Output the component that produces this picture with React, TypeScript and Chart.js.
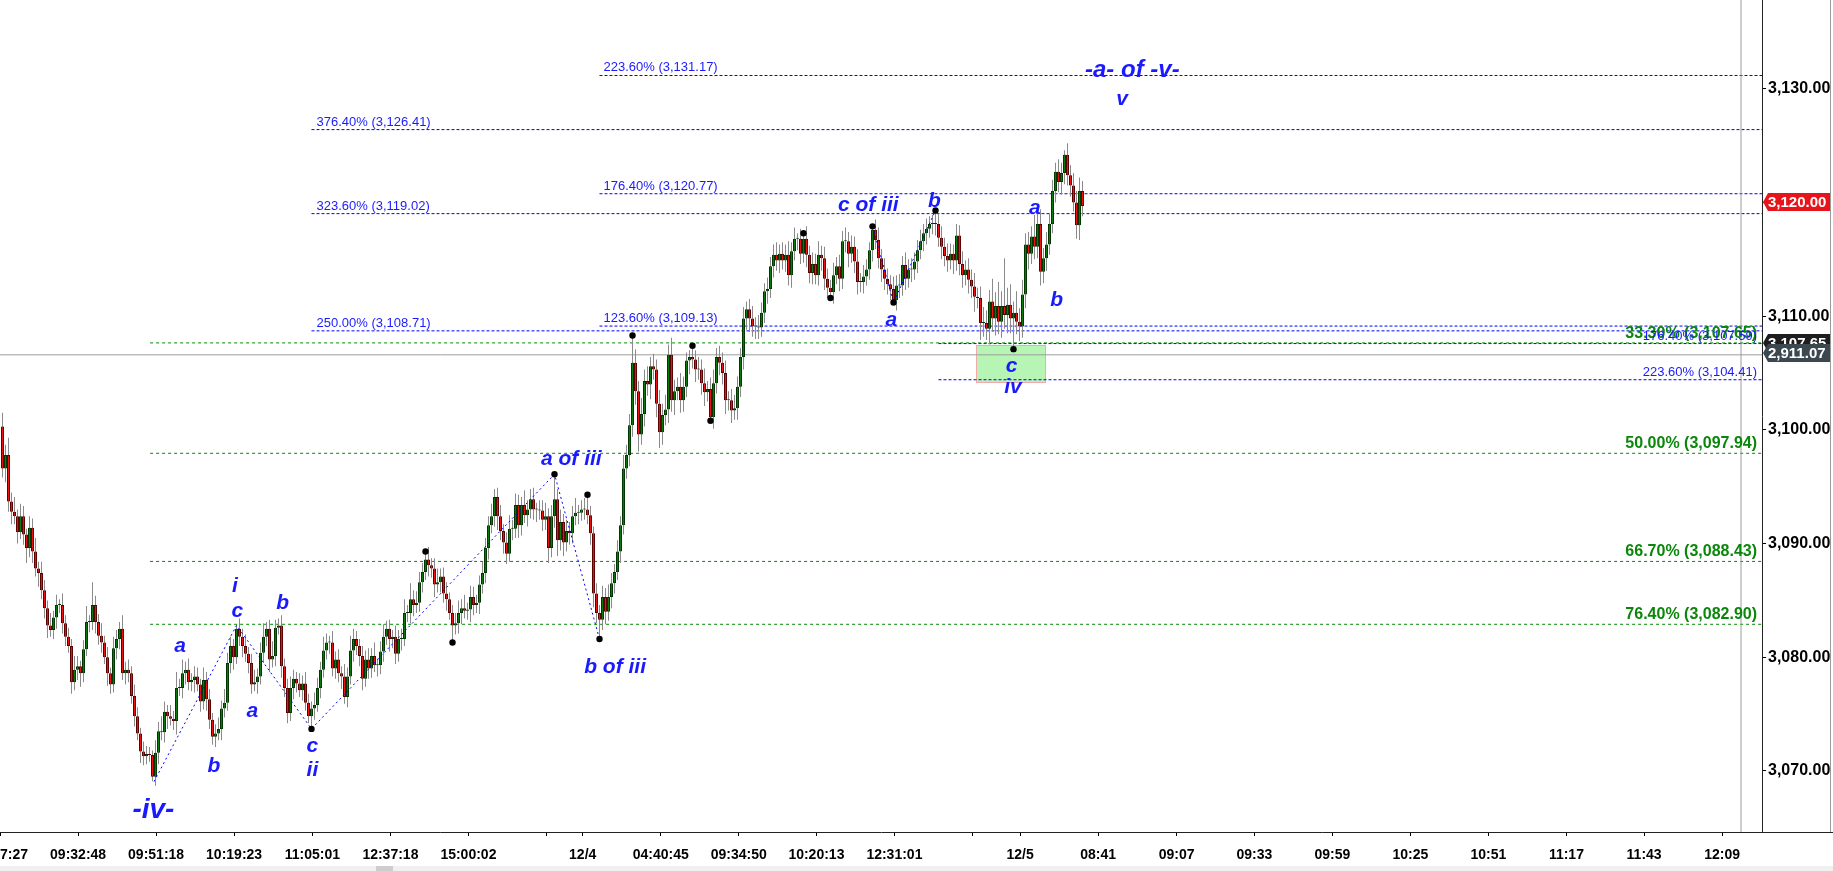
import React, { useEffect, useRef } from "react";
import { Chart, registerables } from "chart.js";
Chart.register(...registerables);

// ---------------- DATA ----------------
const FIRST_OPEN = 3100.3;
const closes = [
  3096.6, 3097.8, 3093.7, 3092.8, 3092.4, 3091.0, 3092.4, 3090.8, 3089.6, 3091.4,
  3089.3, 3087.8, 3087.4, 3085.9, 3084.3, 3082.8, 3082.4, 3083.5, 3084.6, 3084.6,
  3083.0, 3081.8, 3081.0, 3077.8, 3078.9, 3079.2, 3078.6, 3080.7, 3083.1, 3083.1,
  3084.6, 3083.1, 3081.9, 3081.3, 3080.0, 3078.6, 3077.6, 3080.8, 3081.6, 3082.5,
  3078.6, 3078.9, 3078.6, 3076.6, 3074.8, 3073.3, 3071.7, 3071.3, 3071.5, 3071.4,
  3069.5, 3071.6, 3073.5, 3073.4, 3075.2, 3074.8, 3074.6, 3074.4, 3077.3, 3077.3,
  3078.6, 3078.9, 3077.8, 3078.0, 3078.3, 3077.6, 3076.1, 3078.0, 3076.3, 3074.5,
  3073.0, 3073.3, 3073.7, 3075.5, 3076.0, 3079.5, 3081.0, 3080.0, 3082.5, 3081.8,
  3081.0, 3080.3, 3079.5, 3077.6, 3077.8, 3078.3, 3080.4, 3081.8, 3082.5, 3079.8,
  3080.1, 3082.6, 3082.8, 3079.2, 3077.3, 3075.1, 3077.3, 3078.1, 3077.7, 3077.1,
  3077.7, 3076.0, 3074.8, 3075.5, 3075.8, 3077.3, 3078.9, 3080.6, 3081.3, 3081.3,
  3079.0, 3079.8, 3078.6, 3078.3, 3076.5, 3078.3, 3080.6, 3081.6, 3081.0, 3080.1,
  3078.1, 3079.8, 3079.0, 3080.1, 3079.3, 3079.3, 3080.5, 3081.8, 3082.5, 3081.6,
  3081.8, 3080.3, 3081.6, 3081.6, 3083.9, 3083.9, 3085.1, 3084.6, 3084.8, 3086.6,
  3087.5, 3088.6, 3088.1, 3087.8, 3086.4, 3086.6, 3087.1, 3085.6, 3085.1, 3083.9,
  3082.8, 3083.0, 3083.9, 3084.3, 3084.1, 3084.2, 3085.3, 3084.6, 3084.8, 3086.4,
  3087.4, 3089.6, 3091.6, 3092.4, 3094.1, 3092.4, 3091.1, 3090.1, 3089.1, 3091.3,
  3091.3, 3093.4, 3091.6, 3093.4, 3092.5, 3093.0, 3093.9, 3093.0, 3093.0, 3092.9,
  3092.1, 3092.4, 3089.6, 3092.4, 3093.9, 3090.3, 3091.9, 3090.1, 3091.1, 3090.9,
  3092.4, 3092.7, 3092.7, 3093.0, 3093.0, 3092.5, 3090.9, 3085.6, 3083.9, 3083.3,
  3085.3, 3084.0, 3085.3, 3086.5, 3087.5, 3089.3, 3091.6, 3096.6, 3097.8, 3100.4,
  3105.9, 3103.4, 3099.6, 3101.4, 3104.3, 3104.0, 3105.6, 3105.3, 3102.3, 3099.8,
  3101.3, 3101.8, 3106.6, 3102.6, 3103.4, 3103.8, 3102.6, 3103.8, 3106.1, 3106.4,
  3106.2, 3105.3, 3105.3, 3104.1, 3103.3, 3103.6, 3101.1, 3104.1, 3106.4, 3105.9,
  3105.0, 3102.6, 3102.6, 3101.7, 3101.9, 3103.8, 3106.4, 3109.8, 3110.6, 3109.8,
  3109.1, 3109.1, 3109.0, 3110.3, 3112.2, 3112.4, 3114.4, 3115.4, 3114.9, 3115.5,
  3114.9, 3115.4, 3113.6, 3115.7, 3116.8, 3116.8, 3115.5, 3116.8, 3115.4, 3113.8,
  3114.6, 3113.6, 3115.4, 3115.1, 3113.3, 3112.5, 3112.1, 3113.6, 3114.4, 3113.3,
  3116.6, 3116.6, 3115.5, 3116.1, 3114.8, 3113.0, 3113.0, 3113.5, 3114.1, 3115.8,
  3117.6, 3116.7, 3115.1, 3114.1, 3113.3, 3112.8, 3112.4, 3111.4, 3112.7, 3112.7,
  3114.5, 3113.3, 3114.1, 3114.1, 3114.8, 3115.8, 3116.6, 3117.3, 3117.7, 3118.1,
  3118.1, 3118.1, 3116.9, 3116.1, 3115.3, 3114.9, 3115.5, 3114.9, 3117.1, 3114.6,
  3113.6, 3114.1, 3113.2, 3112.6, 3111.7, 3111.6, 3109.4, 3109.4, 3108.9, 3111.3,
  3109.8, 3110.9, 3109.5, 3110.9, 3110.1, 3111.0, 3109.8, 3110.3, 3109.5, 3109.1,
  3111.9, 3116.3, 3115.5, 3117.0, 3116.1, 3118.1, 3113.9, 3115.1, 3116.3, 3118.1,
  3121.0, 3122.7, 3121.8, 3122.6, 3124.2, 3122.4, 3121.5, 3120.0, 3118.0, 3121.0,
  3119.7,
];
const wickUp = [
  1.2, 0.9, 1.5, 0.8, 1.3, 0.6, 1.1, 0.9, 0.5, 1.0,
  0.8, 1.2, 0.6, 1.0, 0.9, 0.7, 1.1, 0.6, 0.9, 0.5,
  1.0, 0.7, 0.8, 0.6, 1.2, 0.9, 0.5, 0.8, 1.4, 0.6,
  2.0, 0.8, 0.7, 1.1, 0.6, 0.9, 0.5, 1.0, 0.8, 0.6,
  1.2, 0.7, 0.9, 0.6, 1.0, 0.8, 0.5, 0.9, 0.7, 0.6,
  0.4, 1.1, 0.8, 1.3, 0.9, 0.6, 1.0, 0.7, 1.4, 0.8,
  1.2, 0.7, 1.0, 0.6, 0.9, 0.8, 0.5, 1.1, 0.7, 0.9,
  0.6, 0.8, 1.0, 0.7, 1.2, 0.9, 0.8, 0.6, 0.3, 0.9,
  0.7, 1.0, 0.6, 0.8, 1.1, 0.7, 0.9, 1.2, 0.6, 0.8,
  1.3, 0.7, 0.6, 0.9, 0.7, 0.8, 1.0, 0.8, 0.6, 0.9,
  0.7, 1.0, 0.8, 0.6, 1.1, 0.9, 0.7, 1.2, 0.8, 0.6,
  1.0, 0.7, 0.9, 0.6, 1.1, 0.8, 1.3, 0.9, 0.7, 0.6,
  0.9, 0.8, 1.0, 0.7, 1.2, 0.6, 0.9, 1.1, 0.7, 0.8,
  0.6, 1.0, 0.8, 0.9, 1.2, 0.7, 1.4, 0.8, 1.0, 0.9,
  0.8, 0.7, 1.1, 0.6, 0.9, 1.2, 0.7, 0.8, 1.0, 0.6,
  0.7, 0.9, 1.1, 0.8, 1.2, 0.6, 1.0, 0.9, 0.7, 0.8,
  1.0, 0.9, 0.8, 1.1, 0.7, 0.8, 1.0, 0.6, 0.9, 1.2,
  0.8, 1.0, 0.9, 0.7, 1.3, 0.8, 0.9, 1.0, 0.6, 0.8,
  0.9, 1.2, 0.7, 1.0, 2.2, 0.9, 1.1, 0.7, 1.0, 0.8,
  0.9, 1.3, 0.7, 0.8, 1.0, 1.3, 0.8, 0.6, 0.9, 0.7,
  1.0, 0.8, 1.1, 0.9, 0.7, 1.0, 0.8, 1.2, 0.9, 1.0,
  2.4, 1.2, 0.9, 1.4, 1.0, 1.3, 0.8, 1.1, 0.9, 1.2,
  1.0, 1.3, 0.9, 1.5, 1.0, 0.8, 1.2, 0.9, 0.7, 0.6,
  1.0, 0.8, 1.1, 0.9, 1.3, 0.7, 1.0, 1.2, 0.8, 1.0,
  0.9, 1.1, 0.8, 1.0, 1.2, 0.9, 0.8, 1.0, 0.7, 0.9,
  1.1, 0.8, 1.0, 0.9, 0.7, 1.0, 0.8, 0.9, 1.1, 0.8,
  1.0, 0.9, 1.2, 0.8, 1.0, 0.5, 0.9, 0.5, 1.1, 0.8,
  1.0, 0.9, 1.2, 0.8, 1.0, 0.9, 0.7, 1.1, 0.8, 1.0,
  0.9, 1.2, 0.8, 1.0, 0.9, 1.1, 0.8, 1.0, 0.9, 0.7,
  0.3, 0.9, 1.1, 0.8, 1.0, 0.9, 0.8, 1.1, 0.9, 1.0,
  0.8, 1.1, 0.9, 1.0, 0.8, 0.9, 1.0, 0.8, 0.9, 0.7,
  0.8, 1.2, 0.9, 1.0, 0.8, 1.1, 0.9, 0.8, 1.0, 0.9,
  1.1, 0.8, 1.0, 0.9, 1.2, 0.8, 1.0, 1.4, 1.1, 1.0,
  2.0, 1.2, 2.1, 1.3, 4.2, 1.5, 1.8, 1.0, 1.9, 1.2,
  1.3, 1.0, 1.1, 0.9, 1.9, 1.0, 1.3, 0.9, 1.1, 0.9,
  1.0, 0.8, 1.1, 0.9, 0.4, 1.0, 0.9, 1.1, 1.0, 1.2,
  0.9,
];
const wickDown = [
  0.8, 1.2, 0.9, 1.1, 0.7, 1.0, 0.6, 0.9, 1.3, 0.8,
  1.0, 0.7, 1.2, 0.8, 0.9, 1.1, 0.6, 0.8, 1.0, 0.7,
  0.9, 0.8, 0.6, 1.0, 0.7, 0.9, 1.2, 0.8, 0.6, 0.9,
  0.7, 1.0, 0.8, 0.9, 0.6, 1.1, 0.8, 0.7, 1.0, 0.9,
  0.6, 1.0, 0.8, 0.7, 0.9, 0.6, 1.0, 0.8, 0.7, 0.6,
  0.4, 0.8, 1.0, 0.7, 0.9, 1.1, 0.6, 0.8, 1.2, 0.7,
  0.9, 1.0, 0.7, 0.8, 1.1, 0.6, 0.9, 0.7, 1.0, 0.8,
  0.7, 0.9, 0.6, 1.0, 0.8, 0.7, 0.9, 1.1, 0.6, 0.8,
  1.0, 0.7, 0.9, 0.8, 0.6, 1.0, 0.7, 0.9, 0.8, 1.1,
  0.7, 0.9, 0.6, 1.0, 0.8, 0.9, 0.7, 1.0, 0.8, 0.6,
  0.9, 0.7, 0.6, 1.1, 1.0, 0.6, 0.9, 0.7, 0.8, 1.0,
  0.7, 0.9, 0.8, 1.1, 0.6, 0.9, 0.7, 1.0, 0.8, 0.9,
  1.0, 0.7, 0.9, 0.8, 0.6, 1.0, 0.8, 0.9, 0.7, 1.1,
  0.8, 0.9, 0.7, 1.0, 0.6, 0.8, 0.9, 1.0, 0.7, 0.8,
  0.9, 0.7, 1.0, 0.8, 1.1, 0.7, 0.9, 0.8, 1.0, 0.6,
  1.5, 0.8, 0.9, 1.0, 0.7, 0.8, 1.1, 0.9, 0.7, 1.0,
  0.8, 0.9, 1.0, 0.7, 0.9, 1.2, 0.8, 1.0, 0.9, 0.7,
  1.0, 0.8, 1.1, 0.9, 0.7, 1.0, 0.8, 0.9, 1.1, 0.8,
  1.0, 0.9, 1.3, 0.8, 1.0, 1.4, 0.9, 1.2, 0.8, 1.0,
  0.9, 0.8, 1.0, 0.7, 0.9, 0.8, 1.0, 1.2, 0.9, 1.7,
  0.9, 1.1, 0.8, 1.0, 0.9, 0.7, 1.0, 0.8, 0.9, 1.0,
  1.0, 1.2, 1.5, 0.9, 1.1, 1.0, 1.3, 0.9, 1.2, 1.4,
  1.1, 0.9, 1.2, 1.0, 1.3, 0.8, 1.1, 1.0, 0.9, 1.2,
  0.8, 1.1, 0.9, 1.0, 1.2, 0.8, 0.3, 1.0, 0.9, 1.1,
  1.0, 1.2, 0.9, 1.1, 0.8, 1.0, 0.9, 1.1, 1.0, 1.2,
  0.9, 1.1, 1.0, 0.8, 0.9, 1.1, 0.8, 1.0, 0.9, 1.1,
  0.8, 1.0, 0.9, 1.1, 0.8, 1.0, 0.9, 0.8, 1.1, 0.9,
  1.0, 0.8, 0.9, 1.1, 1.0, 0.9, 0.5, 1.0, 0.8, 1.1,
  0.9, 1.0, 1.2, 0.8, 1.0, 1.1, 0.9, 1.0, 0.8, 0.9,
  1.0, 0.8, 0.9, 1.1, 1.0, 0.9, 1.0, 0.2, 0.9, 1.1,
  0.9, 1.0, 0.8, 1.1, 0.9, 1.0, 0.8, 0.9, 1.0, 0.8,
  0.9, 1.0, 0.8, 1.1, 0.9, 1.0, 0.8, 1.2, 0.9, 1.0,
  1.1, 0.9, 1.2, 1.0, 1.3, 0.9, 1.5, 1.2, 1.0, 1.4,
  1.2, 1.5, 1.1, 1.4, 1.2, 1.6, 1.3, 2.7, 1.1, 1.3,
  1.0, 1.2, 1.4, 0.9, 1.1, 1.0, 1.2, 1.0, 1.1, 0.9,
  0.8, 1.0, 0.9, 1.1, 1.0, 0.9, 1.0, 0.8, 1.2, 1.3,
  0.9,
];

// axis ticks (x in bar-slot units)
const xTickPos = [-0.83, 25.2, 51.2, 77.2, 103.3, 129.3, 155.3, 181.3, 193.4, 219.4, 245.4, 271.3, 297.3, 323.4, 339.2, 365.2, 391.4, 417.3, 443.3, 469.3, 495.3, 521.3, 547.2, 573.2];
const xTickLabels = ["09:17:27", "09:32:48", "09:51:18", "10:19:23", "11:05:01", "12:37:18", "15:00:02", "", "12/4", "04:40:45", "09:34:50", "10:20:13", "12:31:01", "", "12/5", "08:41", "09:07", "09:33", "09:59", "10:25", "10:51", "11:17", "11:43", "12:09"];
const yTicks = [3070, 3080, 3090, 3100, 3110, 3120, 3130];
const X_MIN = -0.8333;
const X_MAX = 586.5;
const Y_MIN = 3064.63;
const Y_MAX = 3137.81;

// fibonacci levels
const fibAStart = 103;
const fibALevels = [3126.41, 3119.02, 3108.71];
const fibALabels = ["376.40% (3,126.41)", "323.60% (3,119.02)", "250.00% (3,108.71)"];
const fibBStart = 199;
const fibBLevels = [3131.17, 3120.77, 3109.13];
const fibBLabels = ["223.60% (3,131.17)", "176.40% (3,120.77)", "123.60% (3,109.13)"];
const fibCStart = 312;
const fibCLevels = [3107.59, 3104.41];
const fibCLabels = ["176.40% (3,107.59)", "223.60% (3,104.41)"];
const fibGStart = 49.2;
const fibGLevels = [3107.65, 3097.94, 3088.43, 3082.9];
const fibGLabels = ["33.30% (3,107.65)", "50.00% (3,097.94)", "66.70% (3,088.43)", "76.40% (3,082.90)"];

// wave paths & pivot dots
const wave1Idx = [50.5, 78, 103, 184, 199];
const wave1Val = [3069.06, 3082.8, 3073.7, 3096.1, 3081.6];
const wave2Idx = [290, 297, 311];
const wave2Val = [3117.9, 3111.2, 3119.3];
const dotIdx = [103, 141, 150, 184, 195, 199, 210, 230, 236, 267, 276, 290, 297, 311, 337];
const dotVal = [3073.7, 3089.3, 3081.3, 3096.1, 3094.3, 3081.6, 3108.3, 3107.4, 3100.8, 3117.3, 3111.6, 3117.9, 3111.2, 3119.3, 3107.1];

// wave labels
const waveText = ["-iv-", "i", "c", "a", "b", "a", "b", "c", "ii", "a of iii", "b of iii", "c of iii", "b", "a", "a", "b", "v", "-a- of -v-", "c", "iv"];
const waveIdx = [50.3, 77.5, 78.3, 59.2, 70.5, 83.3, 93.4, 103.3, 103.3, 189.6, 204.2, 288.6, 310.6, 296.3, 344.1, 351.4, 373.2, 376.6, 336.4, 336.8];
const waveVal = [3066.57, 3086.21, 3084.01, 3080.93, 3070.38, 3075.22, 3084.75, 3072.14, 3070.09, 3097.44, 3079.12, 3119.72, 3120.13, 3109.67, 3119.49, 3111.42, 3129.1, 3131.65, 3105.62, 3103.73];

// zone box, crosshair, price tags
const boxIdx = [324.4, 347.6];
const boxVal = [3104.24, 3107.47];
const crossIdx = 579.5;
const crossVal = 3106.6;
const tagVals = [3107.65, 3106.75, 3120.0];
const tagTexts = ["3,107.65", "2,911.07", "3,120.00"];

// ---------------- CHART ----------------
const FONT = "'Liberation Sans', Arial, sans-serif";
const NARROW = "'Liberation Sans Narrow', 'Arial Narrow', 'DejaVu Sans Condensed'";
const BLUE = "#1a1aff";

function narrowAvailable(): boolean {
  try {
    const c = document.createElement("canvas").getContext("2d");
    if (!c) return false;
    c.font = "20px monospace";
    const base = c.measureText("09:32:48 mmm").width;
    c.font = "20px 'Liberation Sans Narrow', monospace";
    const n = c.measureText("09:32:48 mmm").width;
    return Math.abs(base - n) > 0.5;
  } catch (e) {
    return false;
  }
}

const annoPlugin = {
  id: "anno",
  beforeDatasetsDraw(chart: any) {
    const { ctx, scales } = chart;
    const x = scales.x, y = scales.y;
    const x0 = Math.round(x.getPixelForValue(boxIdx[0]));
    const x1 = Math.round(x.getPixelForValue(boxIdx[1]));
    const y0 = Math.round(y.getPixelForValue(boxVal[1]));
    const y1 = Math.round(y.getPixelForValue(boxVal[0]));
    ctx.save();
    ctx.fillStyle = "#b6f5b3";
    ctx.fillRect(x0, y0, x1 - x0, y1 - y0);
    ctx.strokeStyle = "#f2a9a9";
    ctx.lineWidth = 1;
    ctx.strokeRect(x0 + 0.5, y0 + 0.5, x1 - x0, y1 - y0);
    ctx.restore();
  },
  afterDatasetsDraw(chart: any) {
    const { ctx, scales, chartArea } = chart;
    const x = scales.x, y = scales.y;
    ctx.save();
    ctx.font = `13px ${FONT}`;
    ctx.fillStyle = BLUE;
    ctx.textAlign = "left";
    ctx.textBaseline = "alphabetic";
    fibALevels.forEach((v, k) => ctx.fillText(fibALabels[k], x.getPixelForValue(fibAStart) + 5, y.getPixelForValue(v) - 4));
    fibBLevels.forEach((v, k) => ctx.fillText(fibBLabels[k], x.getPixelForValue(fibBStart) + 4, y.getPixelForValue(v) - 4));
    ctx.textAlign = "right";
    ctx.font = `bold 16px ${FONT}`;
    ctx.fillStyle = "#0a870a";
    fibGLevels.forEach((v, k) => ctx.fillText(fibGLabels[k], chartArea.right - 5, y.getPixelForValue(v) - 5));
    ctx.font = `13px ${FONT}`;
    ctx.fillStyle = BLUE;
    fibCLevels.forEach((v, k) => ctx.fillText(fibCLabels[k], chartArea.right - 5, y.getPixelForValue(v) - 4));
    ctx.textAlign = "center";
    ctx.textBaseline = "middle";
    ctx.fillStyle = BLUE;
    waveText.forEach((t, k) => {
      const size = t === "-iv-" ? 28 : t === "-a- of -v-" ? 24 : 21;
      ctx.font = `italic bold ${size}px ${FONT}`;
      ctx.fillText(t, x.getPixelForValue(waveIdx[k]), y.getPixelForValue(waveVal[k]));
    });
    ctx.restore();
  },
  afterDraw(chart: any) {
    const { ctx, scales, chartArea, width } = chart;
    const y = scales.y;
    ctx.save();
    ctx.strokeStyle = "#222";
    ctx.lineWidth = 1;
    ctx.beginPath();
    ctx.moveTo(chartArea.right, Math.round(chartArea.bottom) + 0.5);
    ctx.lineTo(width, Math.round(chartArea.bottom) + 0.5);
    ctx.stroke();
    ctx.strokeStyle = "#9a9a9a";
    ctx.beginPath();
    ctx.moveTo(width - 2.5, 0);
    ctx.lineTo(width - 2.5, chartArea.bottom);
    ctx.stroke();
    const colors = ["#1e1e1e", "#3b4850", "#e8141c"];
    tagVals.forEach((v, k) => {
      const yy = Math.round(y.getPixelForValue(v));
      const left = chartArea.right + 1;
      const right = width - 3;
      const h = 18;
      ctx.fillStyle = colors[k];
      ctx.beginPath();
      ctx.moveTo(left, yy);
      ctx.lineTo(left + 5, yy - h / 2);
      ctx.lineTo(right, yy - h / 2);
      ctx.lineTo(right, yy + h / 2);
      ctx.lineTo(left + 5, yy + h / 2);
      ctx.closePath();
      ctx.fill();
      ctx.fillStyle = "#ffffff";
      ctx.font = `bold 15px ${FONT}`;
      ctx.textAlign = "left";
      ctx.textBaseline = "middle";
      ctx.fillText(tagTexts[k], left + 5, yy + 1);
    });
    ctx.restore();
  },
};

export default function App() {
  const ref = useRef<HTMLCanvasElement | null>(null);

  useEffect(() => {
    const canvas = ref.current;
    if (!canvas) return;
    Chart.defaults.font.family = FONT;
    const hasNarrow = narrowAvailable();
    const xFont = hasNarrow
      ? { size: 17, weight: "bold", family: `${NARROW}, ${FONT}` }
      : { size: 14, weight: "bold", family: FONT };

    const opens = closes.map((c, i) => (i === 0 ? FIRST_OPEN : closes[i - 1]));
    const bodyData = closes.map((c, i) => ({ x: i, y: [opens[i], c] }));
    const wickData = closes.map((c, i) => ({
      x: i,
      y: [Math.min(opens[i], c) - wickDown[i], Math.max(opens[i], c) + wickUp[i]],
    }));
    const isUp = closes.map((c, i) => c >= opens[i]);

    const hLine = (start: number, v: number, color: string, dash: number[]) => ({
      type: "line",
      data: [{ x: start, y: v }, { x: X_MAX, y: v }],
      borderColor: color,
      borderWidth: 1,
      borderDash: dash,
      pointRadius: 0,
      fill: false,
      order: 10,
    });

    const datasets: any[] = [];
    fibGLevels.forEach((v) => datasets.push(hLine(fibGStart, v, "#008a00", [3, 3])));
    fibALevels.forEach((v) => datasets.push(hLine(fibAStart, v, "#0000ff", [3, 2])));
    fibBLevels.forEach((v) => datasets.push(hLine(fibBStart, v, "#0000ff", [3, 2])));
    fibCLevels.forEach((v) => datasets.push(hLine(fibCStart, v, "#0000ff", [3, 2])));
    datasets.push({
      type: "line",
      data: [{ x: X_MIN, y: crossVal }, { x: X_MAX, y: crossVal }],
      borderColor: "#9c9c9c", borderWidth: 1, pointRadius: 0, order: 9,
    });
    datasets.push({
      type: "line",
      data: [{ x: crossIdx, y: Y_MIN }, { x: crossIdx, y: Y_MAX }],
      borderColor: "#9c9c9c", borderWidth: 1, pointRadius: 0, order: 9,
    });
    datasets.push({
      type: "bar",
      data: wickData,
      backgroundColor: "#8a8a8a",
      barThickness: 1,
      grouped: false,
      inflateAmount: 0,
      borderWidth: 0,
      order: 6,
    });
    datasets.push({
      type: "bar",
      data: bodyData,
      backgroundColor: isUp.map((u) => (u ? "#0b7a0b" : "#f01010")),
      borderColor: isUp.map((u) => (u ? "#003800" : "#5e0000")),
      borderWidth: 1,
      borderSkipped: false,
      barThickness: 3,
      minBarLength: 1,
      grouped: false,
      inflateAmount: 0,
      order: 5,
    });
    datasets.push({
      type: "line",
      data: wave1Idx.map((v, k) => ({ x: v, y: wave1Val[k] })),
      borderColor: "#0000ff", borderWidth: 1, borderDash: [2, 3], pointRadius: 0, order: 3,
    });
    datasets.push({
      type: "line",
      data: wave2Idx.map((v, k) => ({ x: v, y: wave2Val[k] })),
      borderColor: "#0000ff", borderWidth: 1, borderDash: [2, 3], pointRadius: 0, order: 3,
    });
    datasets.push({
      type: "line",
      showLine: false,
      data: dotIdx.map((v, k) => ({ x: v, y: dotVal[k] })),
      pointRadius: 3.2,
      pointBackgroundColor: "#000",
      pointBorderColor: "#000",
      pointBorderWidth: 0,
      order: 1,
    });

    const chart = new Chart(canvas, {
      type: "bar",
      data: { datasets },
      plugins: [annoPlugin],
      options: {
        animation: false,
        responsive: false,
        devicePixelRatio: 1,
        events: [],
        layout: { padding: { left: 60, top: 20, right: 0, bottom: 0 } },
        plugins: { legend: { display: false }, tooltip: { enabled: false } },
        scales: {
          x: {
            type: "linear",
            position: "bottom",
            min: X_MIN,
            max: X_MAX,
            offset: false,
            grid: { display: true, offset: false, drawOnChartArea: false, drawTicks: true, tickLength: 4, color: "#000" },
            border: { display: true, color: "#222", width: 1 },
            ticks: {
              autoSkip: false,
              maxRotation: 0,
              minRotation: 0,
              padding: hasNarrow ? 9 : 11,
              color: "#000",
              font: xFont,
              callback: (_v: any, i: number) => xTickLabels[i],
            },
            afterBuildTicks: (s: any) => {
              s.ticks = xTickPos.map((v) => ({ value: v }));
            },
            afterFit: (s: any) => {
              s.height = 39;
            },
          },
          y: {
            type: "linear",
            position: "right",
            min: Y_MIN,
            max: Y_MAX,
            beginAtZero: false,
            grid: { display: true, drawOnChartArea: false, drawTicks: true, tickLength: 4, color: "#000" },
            border: { display: true, color: "#222", width: 1 },
            ticks: {
              padding: 2,
              color: "#000",
              font: { size: 16, weight: "bold", family: FONT },
              callback: (v: any) =>
                Number(v).toLocaleString("en-US", { minimumFractionDigits: 2, maximumFractionDigits: 2 }),
            },
            afterBuildTicks: (s: any) => {
              s.ticks = yTicks.map((v) => ({ value: v }));
            },
            afterFit: (s: any) => {
              s.width = 71;
            },
          },
        },
      } as any,
    } as any);
    return () => chart.destroy();
  }, []);

  return (
    <div style={{ position: "fixed", left: 0, top: 0, width: 1833, height: 871, overflow: "hidden", background: "#fff" }}>
      <canvas
        ref={ref}
        width={1893}
        height={891}
        style={{ position: "absolute", left: -60, top: -20, width: 1893, height: 891 }}
      />
      <div style={{ position: "absolute", left: 0, top: 866, width: 1833, height: 5, background: "#f0f0f0" }} />
      <div style={{ position: "absolute", left: 376, top: 866, width: 17, height: 5, background: "#cdcdcd" }} />
    </div>
  );
}
